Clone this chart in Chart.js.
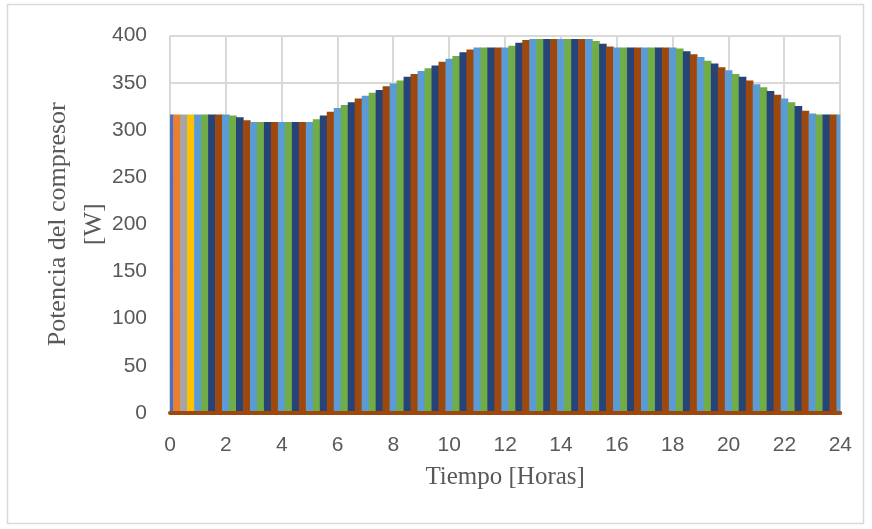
<!DOCTYPE html>
<html>
<head>
<meta charset="utf-8">
<script src="https://cdn.jsdelivr.net/npm/chart.js@4.4.1/dist/chart.umd.min.js"></script>
<style>
  html, body { margin: 0; padding: 0; background: #fff; }
</style>
</head>
<body>
<canvas id="mychart" width="872" height="529"></canvas>
<script>
// Hours (every 15 minutes) and compressor power
var hours = [
  0, 0.25, 0.5, 0.75, 1, 1.25, 1.5, 1.75, 2, 2.25, 2.5, 2.75,
  3, 3.25, 3.5, 3.75, 4, 4.25, 4.5, 4.75, 5, 5.25, 5.5, 5.75,
  6, 6.25, 6.5, 6.75, 7, 7.25, 7.5, 7.75, 8, 8.25, 8.5, 8.75,
  9, 9.25, 9.5, 9.75, 10, 10.25, 10.5, 10.75, 11, 11.25, 11.5, 11.75,
  12, 12.25, 12.5, 12.75, 13, 13.25, 13.5, 13.75, 14, 14.25, 14.5, 14.75,
  15, 15.25, 15.5, 15.75, 16, 16.25, 16.5, 16.75, 17, 17.25, 17.5, 17.75,
  18, 18.25, 18.5, 18.75, 19, 19.25, 19.5, 19.75, 20, 20.25, 20.5, 20.75,
  21, 21.25, 21.5, 21.75, 22, 22.25, 22.5, 22.75, 23, 23.25, 23.5, 23.75,
  24
];
var power = [
  316, 316, 316, 316, 316, 316, 316, 316, 316, 315, 313, 310,
  308, 308, 308, 308, 308, 308, 308, 308, 308, 311, 315, 319,
  323, 326, 329, 333, 336, 339, 342, 346, 349, 352, 356, 359,
  362, 365, 368, 372, 375, 378, 382, 385, 387, 387, 387, 387,
  387, 389, 392, 395, 396, 396, 396, 396, 396, 396, 396, 396,
  396, 394, 391, 388, 387, 387, 387, 387, 387, 387, 387, 387,
  387, 386, 383, 380, 377, 373, 370, 366, 363, 359, 356, 352,
  348, 345, 341, 337, 333, 329, 325, 320, 317, 316, 316, 316,
  316
];
// zero line along the bottom
var baseHours = [0, 24];
var basePower = [0, 0];

var startColors = ['#4472C4', '#ED7D31', '#A5A5A5', '#FFC000'];
var cycleColors = ['#5B9BD5', '#70AD47', '#264478', '#9E480E'];

function barColor(i) {
  return i < 4 ? startColors[i] : cycleColors[(i - 4) % 4];
}

var textGray = '#595959';
var gridGray = '#d9d9d9';

// light frame round the whole chart
var framePlugin = {
  id: 'frame',
  beforeDraw: function(chart) {
    var ctx = chart.ctx;
    ctx.save();
    ctx.fillStyle = '#fff';
    ctx.fillRect(0, 0, chart.width, chart.height);
    ctx.strokeStyle = gridGray;
    ctx.lineWidth = 1.5;
    ctx.strokeRect(7.5, 4.5, 856, 519);
    ctx.restore();
  }
};

window.addEventListener("load", function() {
  var canvas = document.getElementById("mychart").getContext("2d");

  new Chart(canvas, {
    type: 'bar',
    data: {
      datasets: [{
        type: 'line',
        data: baseHours.map(function(h, i) { return {x: h, y: basePower[i]}; }),
        borderColor: '#9E480E',
        borderWidth: 4,
        borderCapStyle: 'round',
        pointRadius: 0,
        clip: 4,
        order: 0
      }, {
        type: 'bar',
        data: hours.map(function(h, i) { return {x: h, y: power[i]}; }),
        backgroundColor: hours.map(function(h, i) { return barColor(i); }),
        borderWidth: 0,
        barPercentage: 1,
        categoryPercentage: 1,
        order: 1
      }]
    },
    options: {
      responsive: false,
      animation: false,
      layout: { padding: { left: 0, top: 33, right: 30, bottom: 37 } },
      plugins: {
        legend: { display: false },
        tooltip: { enabled: false }
      },
      scales: {
        x: {
          type: 'linear',
          min: 0,
          max: 24,
          offset: false,
          grid: { color: gridGray, lineWidth: 2, drawTicks: false, offset: false },
          border: { display: false },
          ticks: {
            stepSize: 2,
            padding: 20,
            maxRotation: 0,
            color: textGray,
            font: { family: 'Liberation Sans', size: 21 }
          },
          title: {
            display: true,
            text: 'Tiempo [Horas]',
            color: textGray,
            font: { family: 'Liberation Serif', size: 25 },
            padding: { top: 0, bottom: 0 }
          },
          afterFit: function(scale) { scale.height = 79; }
        },
        y: {
          min: 0,
          max: 400,
          grid: { color: gridGray, lineWidth: 2, drawTicks: false },
          border: { display: false },
          ticks: {
            stepSize: 50,
            padding: 23,
            color: textGray,
            font: { family: 'Liberation Sans', size: 21 }
          },
          title: {
            display: true,
            text: ['Potencia del compresor', '[W]'],
            color: textGray,
            font: { family: 'Liberation Serif', size: 26, lineHeight: 1.4 },
            padding: { top: 40, bottom: 0 }
          },
          afterFit: function(scale) { scale.width = 170; }
        }
      }
    },
    plugins: [framePlugin]
  });
});
</script>
</body>
</html>
